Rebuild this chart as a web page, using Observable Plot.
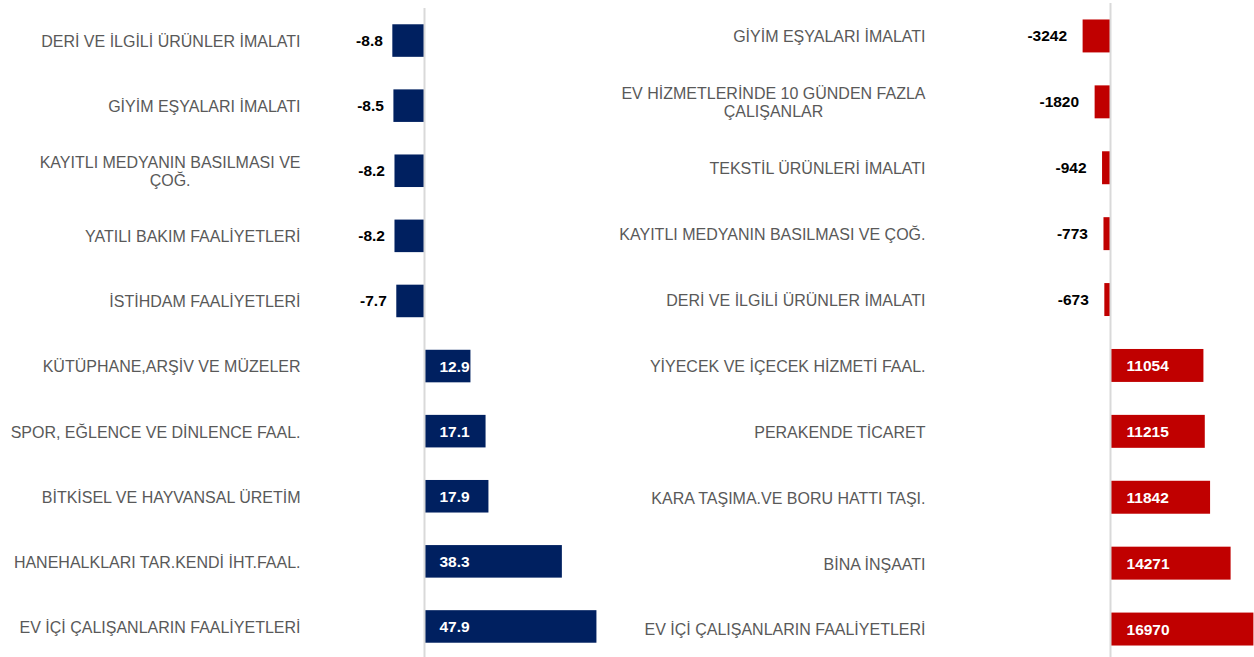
<!DOCTYPE html>
<html><head><meta charset="utf-8">
<script src="https://cdn.jsdelivr.net/npm/d3@7"></script>
<script src="https://cdn.jsdelivr.net/npm/@observablehq/plot@0.6"></script>
<style>
html,body{margin:0;padding:0;background:#fff;overflow:hidden;}
#wrap{position:relative;width:1254px;height:657px;overflow:hidden;}
#wrap svg{font-family:"Liberation Sans",Arial,sans-serif;display:block;position:absolute;top:0;max-width:none !important;}
</style></head><body><div id="wrap"></div>
<script>
const leftCategories = [
  "DERİ VE İLGİLİ ÜRÜNLER İMALATI",
  "GİYİM EŞYALARI İMALATI",
  "KAYITLI MEDYANIN BASILMASI VE\nÇOĞ.",
  "YATILI BAKIM FAALİYETLERİ",
  "İSTİHDAM FAALİYETLERİ",
  "KÜTÜPHANE,ARŞİV VE MÜZELER",
  "SPOR, EĞLENCE VE DİNLENCE FAAL.",
  "BİTKİSEL VE HAYVANSAL ÜRETİM",
  "HANEHALKLARI TAR.KENDİ İHT.FAAL.",
  "EV İÇİ ÇALIŞANLARIN FAALİYETLERİ"
];
const leftValues = [-8.8, -8.5, -8.2, -8.2, -7.7, 12.9, 17.1, 17.9, 38.3, 47.9];

const rightCategories = [
  "GİYİM EŞYALARI İMALATI",
  "EV HİZMETLERİNDE 10 GÜNDEN FAZLA\nÇALIŞANLAR",
  "TEKSTİL ÜRÜNLERİ İMALATI",
  "KAYITLI MEDYANIN BASILMASI VE ÇOĞ.",
  "DERİ VE İLGİLİ ÜRÜNLER İMALATI",
  "YİYECEK VE İÇECEK HİZMETİ FAAL.",
  "PERAKENDE TİCARET",
  "KARA TAŞIMA.VE BORU HATTI TAŞI.",
  "BİNA İNŞAATI",
  "EV İÇİ ÇALIŞANLARIN FAALİYETLERİ"
];
const rightValues = [-3242, -1820, -942, -773, -673, 11054, 11215, 11842, 14271, 16970];

const fontFamily = '"Liberation Sans", Arial, sans-serif';

function panel({cats, vals, color, width, height, marginLeft, marginTop, xDomain, negDx, posDx}) {
  const data = cats.map((c, i) => ({cat: c, value: vals[i]}));
  return Plot.plot({
    width, height, marginLeft, marginRight: 0, marginTop, marginBottom: 0,
    style: {fontFamily, background: "transparent", overflow: "visible"},
    x: {domain: xDomain, axis: null},
    y: {domain: cats, axis: null, paddingInner: 0.5, paddingOuter: 0.25, round: false},
    marks: [
      Plot.barX(data, {x: "value", y: "cat", fill: color}),
      Plot.ruleX([0], {stroke: "#d9d9d9", strokeWidth: 2}),
      Plot.text(data, {y: "cat", frameAnchor: "left", text: "cat", textAnchor: "end", dx: -10,
        fill: "#595959", fontSize: 16, lineHeight: 1.15, className: "catlabel"}),
      Plot.text(data.filter(d => d.value < 0), {x: "value", y: "cat", text: d => String(d.value),
        textAnchor: "end", dx: negDx, fill: "#000", fontWeight: "bold", fontSize: 15.5}),
      Plot.text(data.filter(d => d.value > 0), {x: d => 0, y: "cat", text: d => String(d.value),
        textAnchor: "start", dx: posDx, fill: "#fff", fontWeight: "bold", fontSize: 15.5})
    ]
  });
}

const wrap = document.getElementById("wrap");
const left = panel({cats: leftCategories, vals: leftValues, color: "#002060",
  width: 610, height: 659, marginLeft: 310, marginTop: 8,
  xDomain: [-31.67, 51.67], negDx: -10, posDx: 15});
const right = panel({cats: rightCategories, vals: rightValues, color: "#c00000",
  width: 644, height: 662, marginLeft: 325, marginTop: 3,
  xDomain: [-20710, 17040], negDx: -16, posDx: 16});
for (const [svg, x, w, h] of [[left, 0, 610, 659], [right, 610, 644, 662]]) {
  svg.style.left = x + "px";
  svg.style.width = w + "px";
  svg.style.height = h + "px";
  wrap.append(svg);
}

// center the lines of multi-line category labels within their right-aligned block
document.querySelectorAll(".catlabel text").forEach(t => {
  const spans = t.querySelectorAll("tspan");
  if (spans.length < 2) return;
  let maxW = 0;
  spans.forEach(s => { maxW = Math.max(maxW, s.getComputedTextLength()); });
  t.setAttribute("text-anchor", "middle");
  spans.forEach(s => s.setAttribute("x", -maxW / 2));
});
</script>
</body></html>
